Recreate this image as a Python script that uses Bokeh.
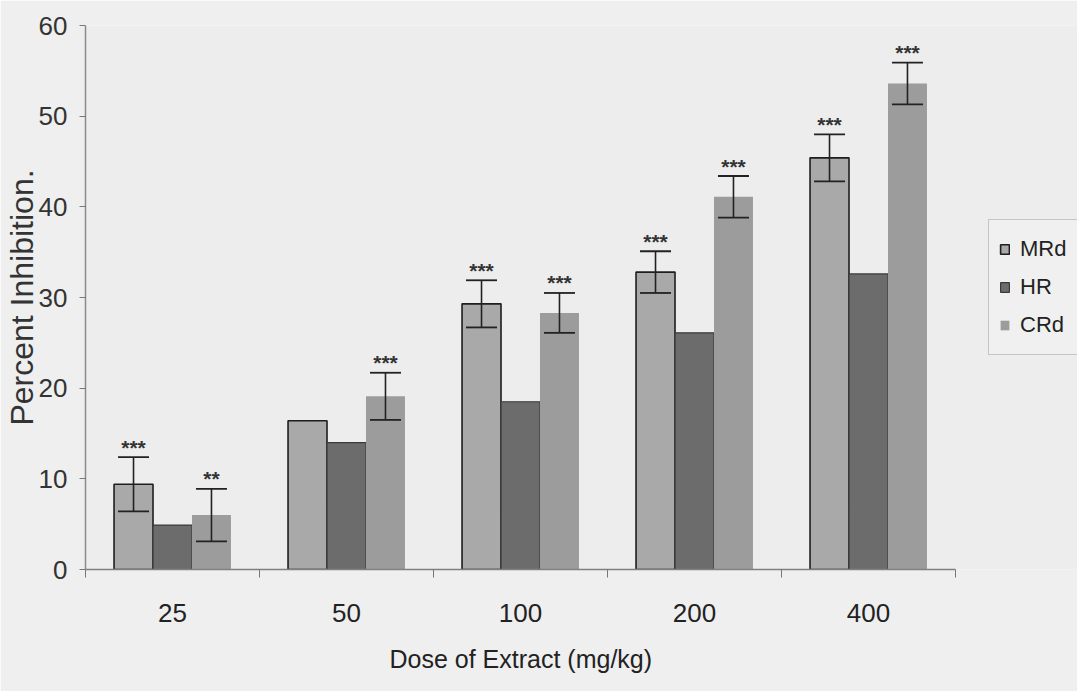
from bokeh.plotting import figure
from bokeh.models import Range1d, FixedTicker, Whisker, ColumnDataSource, Legend, LegendItem, TeeHead, Title
from bokeh.core.properties import value
from bokeh.embed import file_html
from bokeh.resources import INLINE

# ---- data ----
doses = ["25", "50", "100", "200", "400"]
series_names = ["MRd", "HR", "CRd"]
mrd = [9.4, 16.4, 29.3, 32.8, 45.4]
mrd_err = [3.0, None, 2.6, 2.3, 2.6]
mrd_sig = ["***", "", "***", "***", "***"]
hr = [4.9, 14.0, 18.5, 26.1, 32.6]
crd = [6.0, 19.1, 28.3, 41.1, 53.6]
crd_err = [2.9, 2.6, 2.2, 2.3, 2.3]
crd_sig = ["**", "***", "***", "***", "***"]
y_ticks = [0, 10, 20, 30, 40, 50, 60]
x_title = "Dose of Extract (mg/kg)"
y_title = "Percent Inhibition."

FONT = "Liberation Sans"
W, H = 1077, 691
LEFT, AXIS_RIGHT_PX = 85, 955
bar_w = 0.224
n = len(doses)
centers = [i + 0.5 for i in range(n)]
# frame runs to the right edge so the legend can sit beside the axis; axis line bounded to the categories
x_end = n * (W - LEFT) / (AXIS_RIGHT_PX - LEFT)

p = figure(width=W, height=H, x_range=Range1d(0, x_end), y_range=Range1d(0, 60),
           output_backend="svg", toolbar_location=None,
           min_border_left=LEFT, min_border_right=0, min_border_top=25, min_border_bottom=119,
           background_fill_color="#ededed", border_fill_color="#efefef")
p.outline_line_color = None
p.xgrid.visible = False
p.ygrid.visible = False

colors = {"MRd": "#a9a9a9", "HR": "#6c6c6c", "CRd": "#9c9c9c"}
offsets = {"MRd": -bar_w, "HR": 0.0, "CRd": bar_w}
values = {"MRd": mrd, "HR": hr, "CRd": crd}
outlines = {"MRd": ("#1e1e1e", 1.6), "HR": ("#3a3a3a", 1.2), "CRd": (None, 0)}

renderers = {}
for name in series_names:
    xs = [c + offsets[name] for c in centers]
    src = ColumnDataSource(dict(x=xs, top=values[name]))
    lc, lw = outlines[name]
    r = p.vbar(x="x", top="top", bottom=0, width=bar_w, source=src,
               fill_color=colors[name], line_color=lc, line_width=lw)
    renderers[name] = r

def add_errors(name, vals, errs, sigs):
    xs, up, lo, sx, sy, st = [], [], [], [], [], []
    for c, v, e, s in zip(centers, vals, errs, sigs):
        x = c + offsets[name]
        if e is not None:
            xs.append(x); up.append(v + e); lo.append(v - e)
        if s:
            sx.append(x); sy.append(v + (e if e is not None else 0)); st.append(s)
    src = ColumnDataSource(dict(x=xs, upper=up, lower=lo))
    w = Whisker(base="x", upper="upper", lower="lower", source=src, level="overlay",
                line_color="#222222", line_width=1.6,
                upper_head=TeeHead(size=31, line_color="#222222", line_width=1.8),
                lower_head=TeeHead(size=31, line_color="#222222", line_width=1.8))
    p.add_layout(w)
    ssrc = ColumnDataSource(dict(x=sx, y=sy, t=st))
    p.text(x="x", y="y", text="t", source=ssrc, text_align="center", text_baseline="alphabetic",
           text_font=value(FONT), text_font_size="21px", text_font_style="bold",
           text_color="#333333", y_offset=-10)

add_errors("MRd", mrd, mrd_err, mrd_sig)
add_errors("CRd", crd, crd_err, crd_sig)

# ---- axes ----
xa = p.xaxis[0]
xa.bounds = (0, n)
xa.ticker = FixedTicker(ticks=centers, minor_ticks=list(range(n + 1)))
xa.major_label_overrides = {c: d for c, d in zip(centers, doses)}
xa.major_tick_line_color = None
xa.major_tick_out = 0
xa.major_tick_in = 0
xa.minor_tick_out = 8
xa.minor_tick_in = 0
xa.minor_tick_line_color = "#777777"
xa.axis_line_color = "#808080"
xa.axis_line_width = 1.5
xa.major_label_text_font = FONT
xa.major_label_text_font_size = "26px"
xa.major_label_text_color = "#222222"
xa.major_label_standoff = 26

# x-axis title placed under the category part of the axis (frame extends further right)
xt = Title(text=x_title, align="left", offset=304,
           text_font=FONT, text_font_size="25px", text_font_style="normal",
           text_color="#222222", standoff=37)
p.add_layout(xt, "below")

ya = p.yaxis[0]
ya.ticker = FixedTicker(ticks=y_ticks)
ya.major_tick_out = 6
ya.major_tick_in = 0
ya.major_tick_line_color = "#777777"
ya.minor_tick_line_color = None
ya.axis_line_color = "#8a8a8a"
ya.axis_line_width = 1.5
ya.major_label_text_font = FONT
ya.major_label_text_font_size = "26px"
ya.major_label_text_color = "#333333"
ya.major_label_standoff = 12
ya.axis_label = y_title
ya.axis_label_text_font = FONT
ya.axis_label_text_font_size = "32px"
ya.axis_label_text_font_style = "normal"
ya.axis_label_text_color = "#333333"
ya.axis_label_standoff = -4

# ---- legend ----
legend = Legend(items=[LegendItem(label=nm, renderers=[renderers[nm]]) for nm in series_names],
                location=(988 - LEFT, 214), orientation="vertical",
                label_text_font=FONT, label_text_font_size="22px", label_text_color="#222222",
                glyph_width=11, glyph_height=12, label_height=38, label_width=70,
                label_standoff=10, spacing=0, padding=10, margin=0,
                border_line_color="#999999", border_line_width=1.2,
                background_fill_color="#f0f0f0", background_fill_alpha=1.0)
p.add_layout(legend)

open("out.html", "w").write(file_html(p, INLINE))
